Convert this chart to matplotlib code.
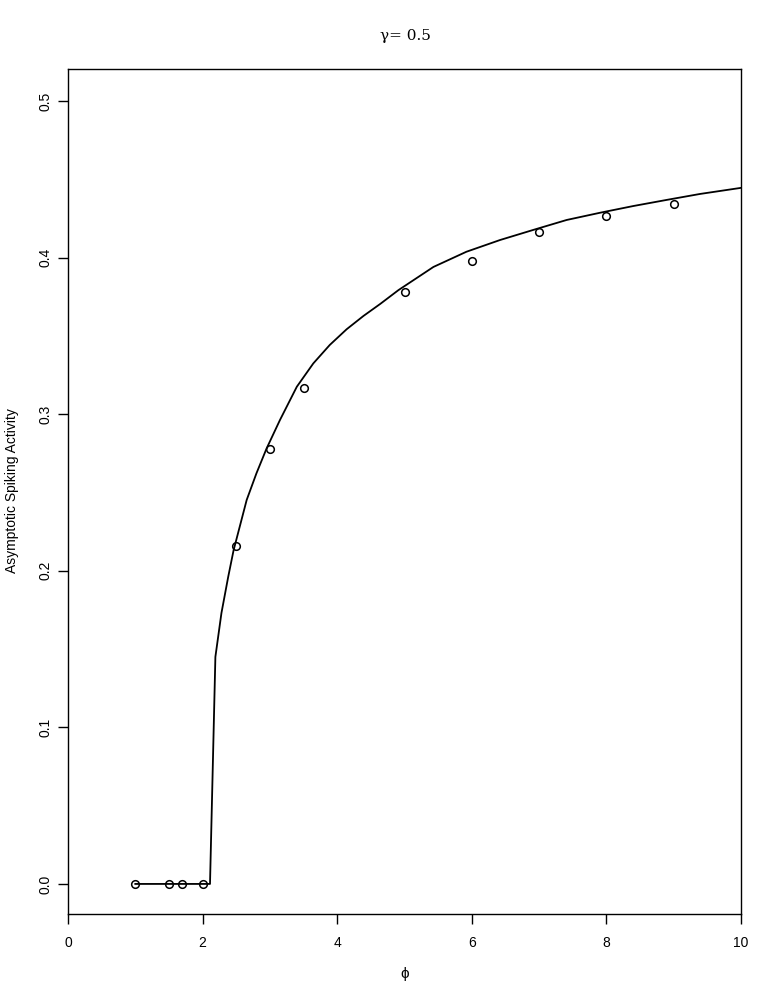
import numpy as np
import matplotlib
matplotlib.use('Agg')
import matplotlib.pyplot as plt

plt.rcParams['font.family'] = ['Liberation Sans', 'DejaVu Sans']

# simulated points (phi, activity)
phi_pts = [1.0, 1.5, 1.7, 2.0, 2.5, 3.0, 3.5, 5.0, 6.0, 7.0, 8.0, 9.0]
act_pts = [0.0, 0.0, 0.0, 0.0, 0.2155, 0.2775, 0.3166, 0.378, 0.398, 0.4166, 0.4268, 0.4342]

# theoretical curve
phi_curve = [1.0, 2.0, 2.11, 2.19, 2.28, 2.38, 2.46, 2.655, 2.80, 2.95, 3.15, 3.40,
             3.645, 3.89, 4.14, 4.39, 4.64, 4.91, 5.43, 5.92, 6.42, 6.91, 7.41,
             7.905, 8.40, 8.895, 9.39, 10.0]
act_curve = [0.0, 0.0, 0.0, 0.145, 0.173, 0.196, 0.213, 0.2452, 0.2622, 0.278, 0.2963, 0.3175,
             0.3324, 0.3442, 0.3542, 0.3627, 0.3704, 0.3792, 0.394, 0.4037, 0.4112, 0.4176, 0.424,
             0.4286, 0.4329, 0.4368, 0.4406, 0.4445]

fig = plt.figure(figsize=(7.77, 10.01), dpi=100)
ax = fig.add_axes([68 / 777, 87 / 1001, 673 / 777, 845 / 1001])

ax.plot(phi_curve, act_curve, color='black', lw=1.3)
ax.plot(phi_pts, act_pts, 'o', mfc='none', mec='black', ms=5.5, mew=1.1)

ax.set_xlim(0, 10)
ax.set_ylim(-0.0192, 0.5204)
ax.set_xticks([0, 2, 4, 6, 8, 10])
ax.set_yticks([0.0, 0.1, 0.2, 0.3, 0.4, 0.5])
ax.set_yticklabels(['0.0', '0.1', '0.2', '0.3', '0.4', '0.5'], rotation=90, va='center')
ax.tick_params(direction='out', length=7, width=1, labelsize=10)
ax.tick_params(axis='x', pad=9)
ax.tick_params(axis='y', pad=4)
for s in ax.spines.values():
    s.set_linewidth(1)

ax.set_xlabel('ϕ', fontsize=11, labelpad=12)
fig.text(12 / 777, 1 - 491 / 1001, 'Asymptotic Spiking Activity', rotation=90,
         ha='center', va='center', fontsize=10)
fig.text(405 / 777, 1 - 36 / 1001, 'γ= 0.5', ha='center', va='center', fontsize=11,
         family=['DejaVu Serif'])

fig.savefig('out.png', dpi=100)
